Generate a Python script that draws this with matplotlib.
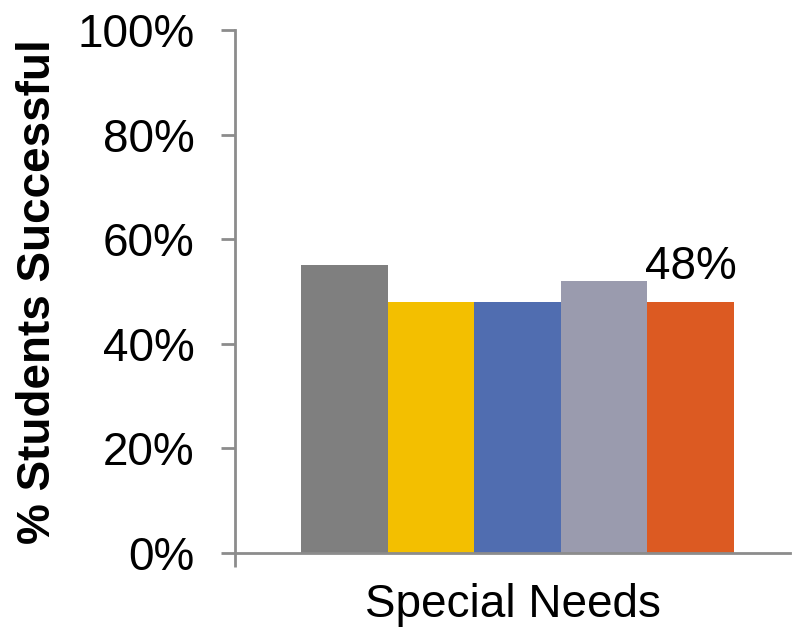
import matplotlib
matplotlib.use('Agg')
from matplotlib import pyplot as plt
from matplotlib.ticker import PercentFormatter

plt.rcParams['font.family'] = ['Liberation Sans', 'DejaVu Sans']

# data
category = "Special Needs"
values = [55, 48, 48, 52, 48]
colors = ['#7f7f7f', '#f3bf00', '#506db0', '#9a9bae', '#dc5a22']
label_index = 4

axis_color = '#8c8c8c'
fs = 33

fig = plt.figure(figsize=(7.96, 6.37), dpi=100)
ax = fig.add_axes([0.2952, 0.1319, 0.6973, 0.8210])

xs = list(range(len(values)))
ax.bar(xs, values, width=1.0, color=colors, edgecolor='none')

ax.text(xs[label_index], values[label_index] + 2.5, f"{values[label_index]}%",
        ha='center', va='bottom', fontsize=fs)

ax.set_ylim(0, 100)
ax.set_xlim(-1.262, 5.147)
ax.set_yticks([0, 20, 40, 60, 80, 100])
ax.yaxis.set_major_formatter(PercentFormatter(decimals=0))
ax.set_xticks([-1.262])
ax.set_xticklabels([''])

for side in ['top', 'right']:
    ax.spines[side].set_visible(False)
for side in ['left', 'bottom']:
    ax.spines[side].set_color(axis_color)
    ax.spines[side].set_linewidth(2)

ax.tick_params(axis='y', length=10, width=2, color=axis_color, labelsize=fs, pad=19)
ax.tick_params(axis='x', length=10, width=2, color=axis_color)

ax.set_xlabel(category, fontsize=fs)
ax.xaxis.set_label_coords(0.5, -0.057)
ax.set_ylabel("% Students Successful", fontsize=fs, fontweight='bold')
ax.yaxis.set_label_coords(-0.315, 0.5)

fig.savefig('out.png', dpi=100)
